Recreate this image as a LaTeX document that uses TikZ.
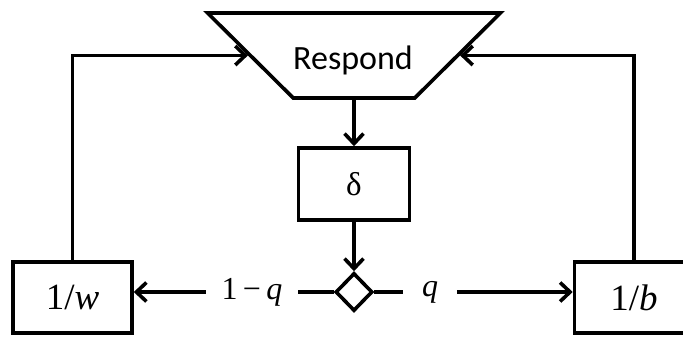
\documentclass[tikz,border=0pt]{standalone}
\usepackage{fontspec}
\setmainfont{Carlito}
\newfontfamily\grk{Liberation Serif}
\usetikzlibrary{shapes.geometric,arrows.meta}
\begin{document}
\begin{tikzpicture}[x=1pt,y=-1pt,line width=3.6pt,
  box/.style={draw,rectangle,inner sep=0pt,font=\grk\fontsize{37}{44}\selectfont},
  arr/.style={-{Straight Barb[length=10pt,width=19pt]}},
  lbl/.style={inner ysep=0pt,inner xsep=14pt,font=\grk\fontsize{32}{38}\selectfont}]
\useasboundingbox (0,0) rectangle (683,337);
\clip (0,0) rectangle (683,337);
\node[draw,trapezium,shape border rotate=180,trapezium angle=54.8,
  trapezium stretches=true,minimum width=293pt,minimum height=85pt,inner sep=2pt] (resp) at (354,55.5) {};
\node[anchor=base,font=\fontsize{34}{40}\selectfont] (resptxt) at (353,70) {Respond};
\node[box,font=\grk\fontsize{33}{40}\selectfont,minimum width=111pt,minimum height=72pt] (d) at (354,184) {δ};
\node[draw,diamond,minimum width=37pt,minimum height=38pt,inner sep=0pt] (dia) at (354,292) {};
\node[box,minimum width=119pt,minimum height=71pt] (w) at (72.5,297.5) {1/\textit{w}};
\node[box,minimum width=119pt,minimum height=71pt] (b) at (634,297.5) {1/\textit{b}};
\node[lbl] (lq) at (252,292) {1\,−\,\textit{q}};
\node[lbl,inner xsep=17pt] (rq) at (430,292) {\textit{q}};
\draw[arr] (resp) -- (d);
\draw[arr] (d) -- (dia);
\draw (dia.west) -- (lq.east);
\draw[arr] (lq.west) -- (w.east |- lq.west);
\draw (dia.east) -- (rq.west);
\draw[arr] (rq.east) -- (b.west |- rq.east);
\draw[arr] (w.north) |- (resp);
\draw[arr] (b.north) |- (resp);
\end{tikzpicture}
\end{document}
